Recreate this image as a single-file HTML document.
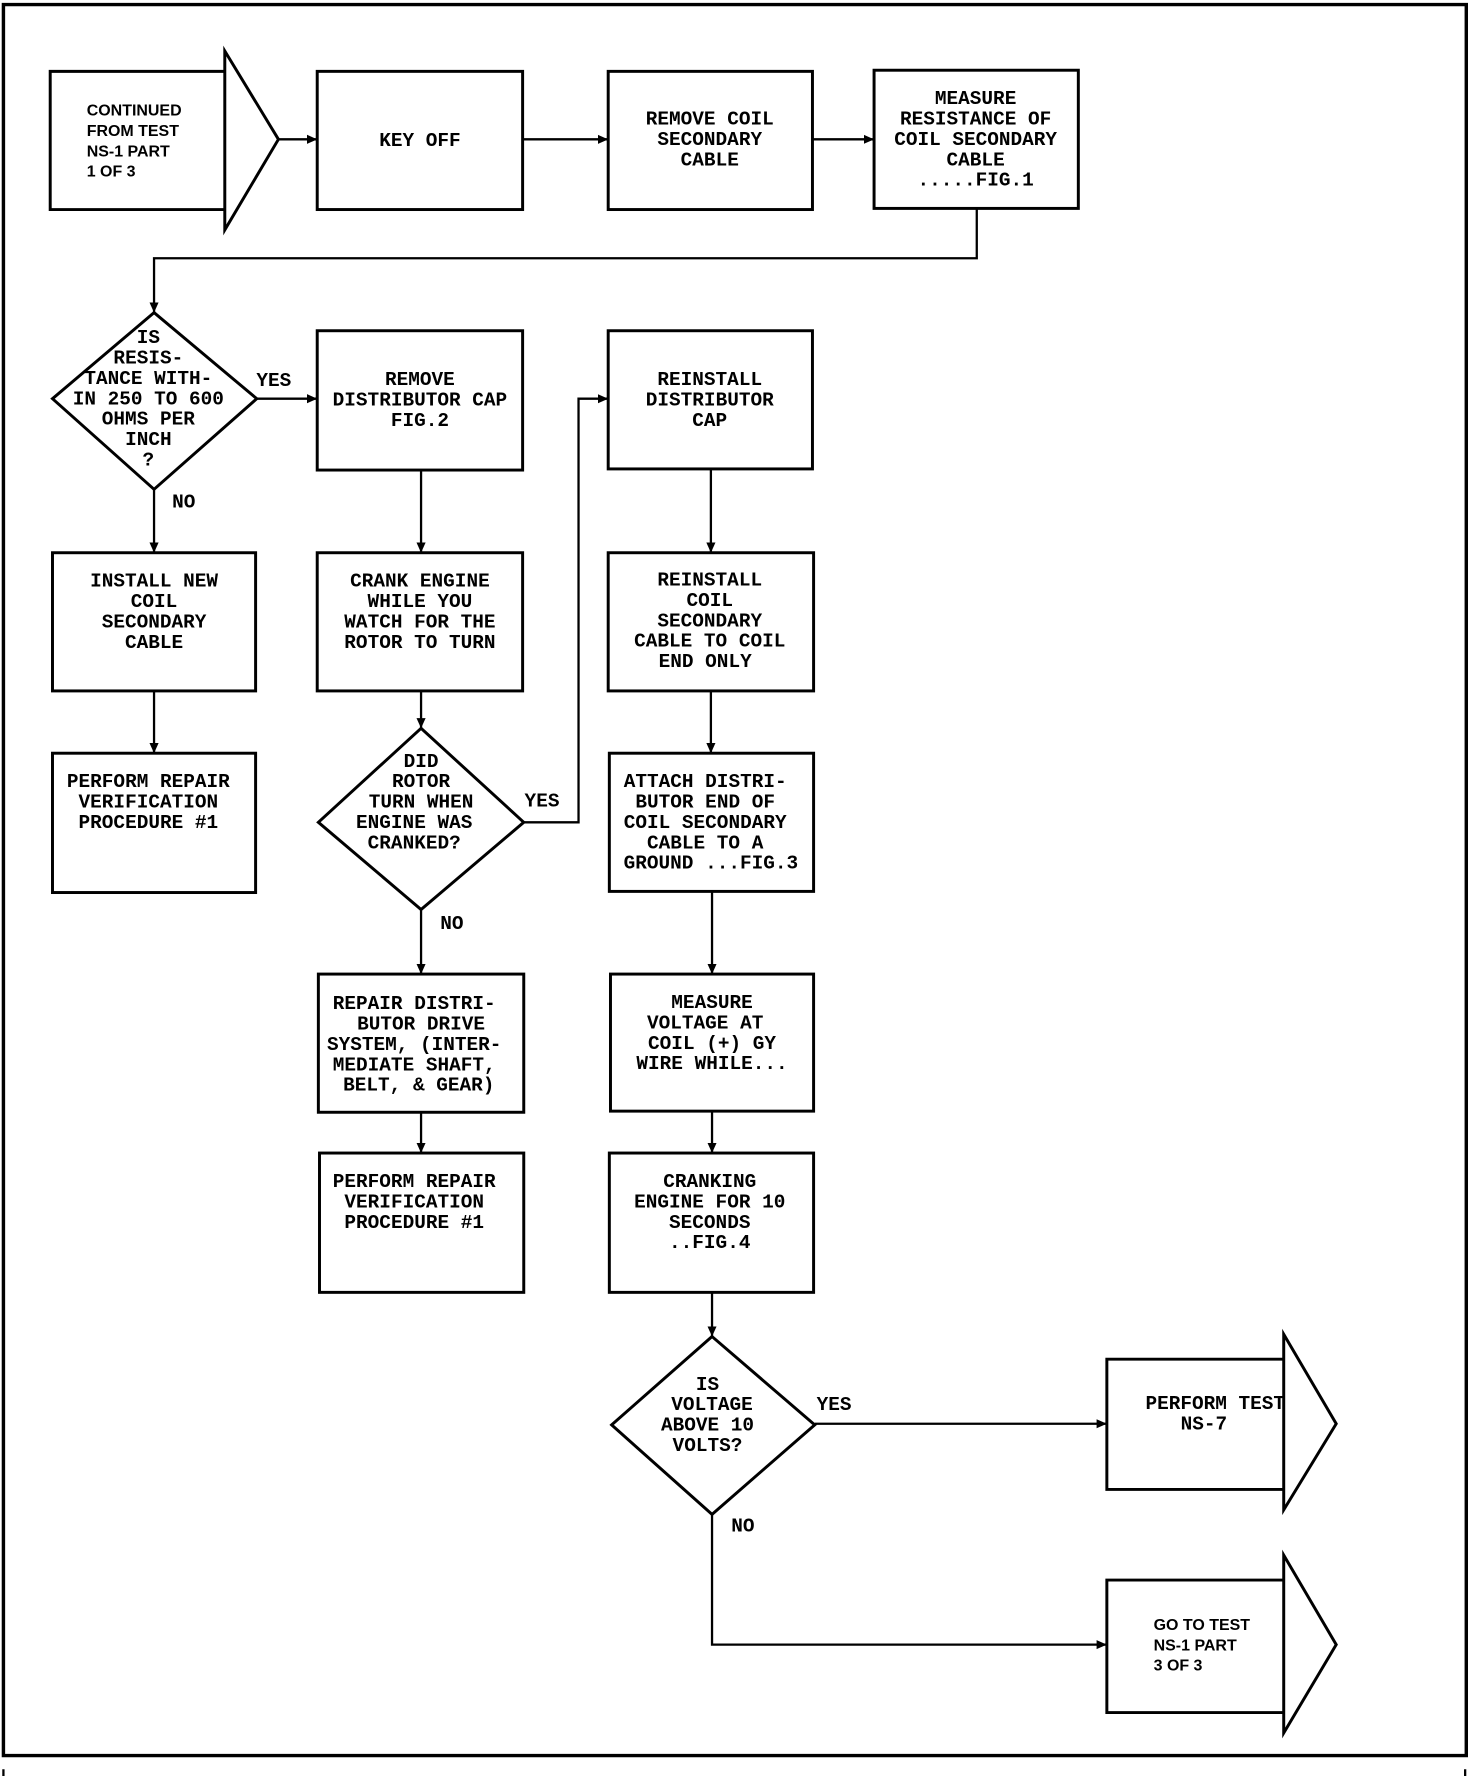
<!DOCTYPE html>
<html><head><meta charset="utf-8"><style>
html,body{margin:0;padding:0;background:#fff;}
svg{display:block;}
.b{fill:none;stroke:#000;stroke-width:2.6;}
.l{fill:none;stroke:#000;stroke-width:2;}
.t{font-family:"Liberation Mono",monospace;font-weight:bold;font-size:17px;text-anchor:middle;fill:#000;}
.s{font-family:"Liberation Sans",sans-serif;font-weight:bold;font-size:14px;fill:#000;}
</style></head><body>
<svg width="1472" height="1776" viewBox="0 0 1290 1568" preserveAspectRatio="none" xmlns="http://www.w3.org/2000/svg">
<defs><marker id="a" markerWidth="10" markerHeight="10" refX="9" refY="5" orient="auto" markerUnits="userSpaceOnUse"><path d="M0,1 L9,5 L0,9 Z" fill="#000"/></marker></defs>
<!-- frame -->
<path d="M3,4 H1285 V1550 H3 Z" fill="none" stroke="#000" stroke-width="3"/>
<path d="M3,1562 V1568 M1284,1562 V1568" stroke="#000" stroke-width="2"/>

<!-- start arrow -->
<path class="b" d="M197,63 H44 V185 H197 M197,45 L244,123 L197,203 Z" />
<text class="s" x="76" y="102">CONTINUED</text>
<text class="s" x="76" y="120">FROM TEST</text>
<text class="s" x="76" y="138">NS-1 PART</text>
<text class="s" x="76" y="156">1 OF 3</text>

<rect class="b" x="278" y="63" width="180" height="122"/>
<text class="t" x="368" y="129">KEY OFF</text>
<rect class="b" x="533" y="63" width="179" height="122"/>
<text class="t" x="622" y="110">REMOVE COIL</text><text class="t" x="622" y="128">SECONDARY</text><text class="t" x="622" y="146">CABLE</text>
<rect class="b" x="766" y="62" width="179" height="122"/>
<text class="t" x="855" y="92">MEASURE</text><text class="t" x="855" y="110">RESISTANCE OF</text><text class="t" x="855" y="128">COIL SECONDARY</text><text class="t" x="855" y="146">CABLE</text><text class="t" x="855" y="164">.....FIG.1</text>

<path class="l" d="M244,123 H278" marker-end="url(#a)"/>
<path class="l" d="M458,123 H533" marker-end="url(#a)"/>
<path class="l" d="M712,123 H766" stroke-width="3.5" marker-end="url(#a)"/>
<path class="l" d="M856,184 V228 H135 V276" marker-end="url(#a)"/>

<!-- diamond 1 -->
<path class="b" d="M135,276 L46,352 L135,432 L225,352 Z"/>
<text class="t" x="130" y="303">IS</text><text class="t" x="130" y="321">RESIS-</text><text class="t" x="130" y="339">TANCE WITH-</text><text class="t" x="130" y="357">IN 250 TO 600</text><text class="t" x="130" y="375">OHMS PER</text><text class="t" x="130" y="393">INCH</text><text class="t" x="130" y="411">?</text>
<text class="t" x="240" y="341">YES</text>
<path class="l" d="M225,352 H278" stroke-width="3" marker-end="url(#a)"/>
<text class="t" x="161" y="448">NO</text>
<path class="l" d="M135,432 V488" marker-end="url(#a)"/>

<rect class="b" x="46" y="488" width="178" height="122"/>
<text class="t" x="135" y="518">INSTALL NEW</text><text class="t" x="135" y="536">COIL</text><text class="t" x="135" y="554">SECONDARY</text><text class="t" x="135" y="572">CABLE</text>
<path class="l" d="M135,610 V665" marker-end="url(#a)"/>
<rect class="b" x="46" y="665" width="178" height="123"/>
<text class="t" x="130" y="695">PERFORM REPAIR</text><text class="t" x="130" y="713">VERIFICATION</text><text class="t" x="130" y="731">PROCEDURE #1</text>

<!-- col 2 -->
<rect class="b" x="278" y="292" width="180" height="123"/>
<text class="t" x="368" y="340">REMOVE</text><text class="t" x="368" y="358">DISTRIBUTOR CAP</text><text class="t" x="368" y="376">FIG.2</text>
<path class="l" d="M369,415 V488" marker-end="url(#a)"/>
<rect class="b" x="278" y="488" width="180" height="122"/>
<text class="t" x="368" y="518">CRANK ENGINE</text><text class="t" x="368" y="536">WHILE YOU</text><text class="t" x="368" y="554">WATCH FOR THE</text><text class="t" x="368" y="572">ROTOR TO TURN</text>
<path class="l" d="M369,610 V643" marker-end="url(#a)"/>
<path class="b" d="M369,643 L279,726 L369,803 L459,726 Z"/>
<text class="t" x="369" y="677">DID</text><text class="t" x="369" y="695">ROTOR</text><text class="t" x="369" y="713">TURN WHEN</text><text class="t" x="363" y="731">ENGINE WAS</text><text class="t" x="363" y="749">CRANKED?</text>
<text class="t" x="475" y="712">YES</text>
<path class="l" d="M459,726 H507 V352 H533" marker-end="url(#a)"/>
<text class="t" x="396" y="820">NO</text>
<path class="l" d="M369,803 V860" stroke-width="3" marker-end="url(#a)"/>
<rect class="b" x="279" y="860" width="180" height="122"/>
<text class="t" x="363" y="891">REPAIR DISTRI-</text><text class="t" x="369" y="909">BUTOR DRIVE</text><text class="t" x="363" y="927">SYSTEM, (INTER-</text><text class="t" x="363" y="945">MEDIATE SHAFT,</text><text class="t" x="367" y="963">BELT, &amp; GEAR)</text>
<path class="l" d="M369,982 V1018" stroke-width="3" marker-end="url(#a)"/>
<rect class="b" x="280" y="1018" width="179" height="123"/>
<text class="t" x="363" y="1048">PERFORM REPAIR</text><text class="t" x="363" y="1066">VERIFICATION</text><text class="t" x="363" y="1084">PROCEDURE #1</text>

<!-- col 3 -->
<rect class="b" x="533" y="292" width="179" height="122"/>
<text class="t" x="622" y="340">REINSTALL</text><text class="t" x="622" y="358">DISTRIBUTOR</text><text class="t" x="622" y="376">CAP</text>
<path class="l" d="M623,414 V488" marker-end="url(#a)"/>
<rect class="b" x="533" y="488" width="180" height="122"/>
<text class="t" x="622" y="517">REINSTALL</text><text class="t" x="622" y="535">COIL</text><text class="t" x="622" y="553">SECONDARY</text><text class="t" x="622" y="571">CABLE TO COIL</text><text class="t" x="618" y="589">END ONLY</text>
<path class="l" d="M623,610 V665" marker-end="url(#a)"/>
<rect class="b" x="534" y="665" width="179" height="122"/>
<text class="t" x="618" y="695">ATTACH DISTRI-</text><text class="t" x="618" y="713">BUTOR END OF</text><text class="t" x="618" y="731">COIL SECONDARY</text><text class="t" x="618" y="749">CABLE TO A</text><text class="t" x="623" y="767">GROUND ...FIG.3</text>
<path class="l" d="M624,787 V860" stroke-width="3" marker-end="url(#a)"/>
<rect class="b" x="535" y="860" width="178" height="121"/>
<text class="t" x="624" y="890">MEASURE</text><text class="t" x="618" y="908">VOLTAGE AT</text><text class="t" x="624" y="926">COIL (+) GY</text><text class="t" x="624" y="944">WIRE WHILE...</text>
<path class="l" d="M624,981 V1018" stroke-width="3" marker-end="url(#a)"/>
<rect class="b" x="534" y="1018" width="179" height="123"/>
<text class="t" x="622" y="1048">CRANKING</text><text class="t" x="622" y="1066">ENGINE FOR 10</text><text class="t" x="622" y="1084">SECONDS</text><text class="t" x="622" y="1102">..FIG.4</text>
<path class="l" d="M624,1141 V1180" marker-end="url(#a)"/>
<path class="b" d="M624,1180 L536,1258 L624,1337 L714,1258 Z"/>
<text class="t" x="620" y="1227">IS</text><text class="t" x="624" y="1245">VOLTAGE</text><text class="t" x="620" y="1263">ABOVE 10</text><text class="t" x="620" y="1281">VOLTS?</text>
<text class="t" x="731" y="1245">YES</text>
<path class="l" d="M714,1257 H970" stroke-width="3" marker-end="url(#a)"/>
<text class="t" x="651" y="1352">NO</text>
<path class="l" d="M624,1337 V1452 H970" stroke-width="2.4" marker-end="url(#a)"/>

<path class="b" d="M1125,1200 H970 V1315 H1125 M1125,1178 L1171,1257 L1125,1333 Z"/>
<text class="t" x="1065" y="1244">PERFORM TEST</text><text class="t" x="1055" y="1262">NS-7</text>
<path class="b" d="M1125,1395 H970 V1512 H1125 M1125,1373 L1171,1452 L1125,1530 Z"/>
<text class="s" x="1011" y="1439">GO TO TEST</text>
<text class="s" x="1011" y="1457">NS-1 PART</text>
<text class="s" x="1011" y="1475">3 OF 3</text>
</svg>
</body></html>
